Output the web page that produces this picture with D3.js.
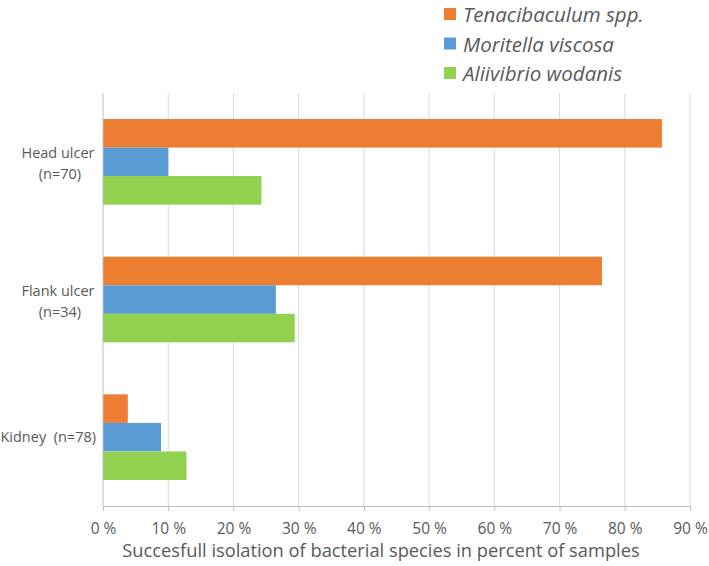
<!DOCTYPE html>
<html><head><meta charset="utf-8">
<script src="https://cdn.jsdelivr.net/npm/d3@7"></script>
<style>body{margin:0;background:#fff}svg{display:block}</style>
</head><body>
<script>
const categories = [["Head ulcer","(n=70)"],["Flank ulcer","(n=34)"],["Kidney\u00a0\u00a0(n=78)"]];
const seriesNames = ["Tenacibaculum spp.","Moritella viscosa","Aliivibrio wodanis"];
const seriesColors = ["#ed7d31","#5b9bd5","#92d050"];
const tenacibaculum = [85.7, 76.5, 3.8];
const moritella = [10.0, 26.5, 8.9];
const aliivibrio = [24.3, 29.4, 12.8];
const xTicks = [0,10,20,30,40,50,60,70,80,90];
const xTitle = "Succesfull isolation of bacterial species in percent of samples";

const W = 709, H = 566;
const margin = {left:103, right:19, top:93, bottom:60};
const svg = d3.select("body").append("svg").attr("width",W).attr("height",H);
const font = "'Open Sans', sans-serif";
const x = d3.scaleLinear().domain([0,90]).range([margin.left, W-margin.right]);
const y = d3.scaleBand().domain(d3.range(categories.length)).range([margin.top, H-margin.bottom]).paddingInner(0.378).paddingOuter(0.189);
const y1 = d3.scaleBand().domain(d3.range(3)).range([0, y.bandwidth()]);
const values = [tenacibaculum, moritella, aliivibrio];

// gridlines
svg.append("g").selectAll("line").data(xTicks.slice(1)).join("line")
  .attr("x1",d=>x(d)).attr("x2",d=>x(d)).attr("y1",margin.top).attr("y2",H-margin.bottom)
  .attr("stroke","#d9d9d9").attr("stroke-width",1);

// bars
categories.forEach((c,i)=>{
  values.forEach((s,j)=>{
    svg.append("rect").attr("x",x(0)).attr("y",y(i)+y1(j))
      .attr("width",x(s[i])-x(0)).attr("height",y1.bandwidth())
      .attr("fill",seriesColors[j]);
  });
});

// y axis line
svg.append("line").attr("x1",x(0)).attr("x2",x(0)).attr("y1",margin.top).attr("y2",H-margin.bottom)
  .attr("stroke","#bfbfbf").attr("stroke-width",1);

// x axis
const xAxis = d3.axisBottom(x).tickValues(xTicks).tickFormat(d=>d+" %").tickSize(5).tickPadding(12).tickSizeOuter(0);
const gx = svg.append("g").attr("transform",`translate(0,${H-margin.bottom})`).call(xAxis);
gx.select(".domain").attr("stroke","#bfbfbf");
gx.selectAll(".tick line").attr("stroke","#bfbfbf");
gx.selectAll("text").attr("fill","#595959").style("font-family",font).style("font-size","15.5px");

// y labels
categories.forEach((c,i)=>{
  const cy = y(i)+y.bandwidth()/2;
  const t = svg.append("text").attr("text-anchor","middle").attr("fill","#595959")
    .style("font-family",font).style("font-size","14.5px");
  if (c.length===2){
    t.append("tspan").attr("x",58).attr("y",cy-4).text(c[0]);
    t.append("tspan").attr("x",60).attr("y",cy+17).text(c[1]);
  } else {
    t.attr("text-anchor","end").attr("x",96).attr("y",cy+5).text(c[0]);
  }
});

// x title
svg.append("text").attr("x",381).attr("y",557).attr("text-anchor","middle")
  .attr("fill","#595959").style("font-family",font).style("font-size","18.3px").text(xTitle);

// legend
seriesNames.forEach((n,i)=>{
  const ly = 14 + i*29.5;
  svg.append("rect").attr("x",444).attr("y",ly-6).attr("width",12).attr("height",12).attr("fill",seriesColors[i]);
  svg.append("text").attr("x",463).attr("y",ly+8).attr("fill","#595959")
    .style("font-family",font).style("font-size","20.5px").style("font-style","italic").text(n);
});
</script>
</body></html>
